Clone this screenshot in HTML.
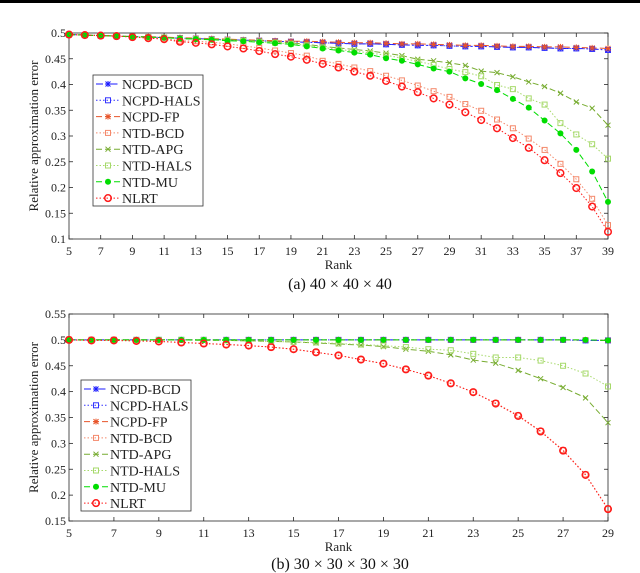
<!DOCTYPE html>
<html><head><meta charset="utf-8"><style>
html,body{margin:0;padding:0;background:#fff;width:640px;height:573px;overflow:hidden}
svg{display:block;font-family:"Liberation Serif",serif}
</style></head><body>
<svg id="s" width="640" height="573">
<rect x="0" y="0" width="640" height="3" fill="#000"/>
</svg>
<script>
const ranksA = [5,6,7,8,9,10,11,12,13,14,15,16,17,18,19,20,21,22,23,24,25,26,27,28,29,30,31,32,33,34,35,36,37,38,39];
const ncpdBcdA = [0.497,0.496,0.495,0.494,0.493,0.492,0.491,0.490,0.489,0.488,0.487,0.486,0.485,0.484,0.483,0.482,0.481,0.480,0.479,0.479,0.478,0.477,0.476,0.476,0.475,0.474,0.474,0.473,0.472,0.472,0.471,0.470,0.470,0.469,0.467];
const ncpdHalsA = [0.497,0.496,0.495,0.494,0.493,0.492,0.491,0.490,0.489,0.488,0.487,0.486,0.485,0.484,0.483,0.482,0.481,0.480,0.479,0.479,0.478,0.477,0.476,0.476,0.475,0.474,0.474,0.473,0.472,0.472,0.471,0.470,0.470,0.469,0.467];
const ncpdFpA = [0.497,0.496,0.495,0.494,0.493,0.493,0.492,0.491,0.490,0.489,0.488,0.487,0.486,0.485,0.484,0.484,0.483,0.482,0.481,0.481,0.480,0.479,0.479,0.478,0.477,0.476,0.476,0.475,0.474,0.474,0.473,0.473,0.472,0.471,0.470];
const ntdBcdA = [0.497,0.496,0.495,0.494,0.493,0.491,0.489,0.485,0.484,0.482,0.479,0.475,0.471,0.466,0.461,0.456,0.446,0.440,0.433,0.426,0.417,0.408,0.398,0.387,0.376,0.362,0.349,0.332,0.315,0.295,0.273,0.246,0.216,0.178,0.127];
const ntdApgA = [0.497,0.496,0.495,0.494,0.493,0.492,0.491,0.490,0.489,0.488,0.487,0.486,0.485,0.483,0.481,0.478,0.474,0.471,0.468,0.465,0.461,0.456,0.449,0.446,0.442,0.437,0.426,0.423,0.415,0.405,0.396,0.383,0.366,0.354,0.321];
const ntdHalsA = [0.497,0.496,0.495,0.494,0.493,0.492,0.491,0.489,0.488,0.487,0.486,0.485,0.483,0.481,0.479,0.476,0.472,0.468,0.465,0.461,0.457,0.451,0.445,0.438,0.430,0.424,0.416,0.399,0.391,0.373,0.361,0.325,0.303,0.284,0.256];
const ntdMuA = [0.497,0.496,0.495,0.494,0.493,0.492,0.491,0.489,0.488,0.487,0.485,0.484,0.482,0.480,0.478,0.474,0.470,0.466,0.462,0.458,0.451,0.446,0.439,0.431,0.425,0.412,0.401,0.389,0.372,0.355,0.330,0.305,0.273,0.231,0.172];
const nlrtA = [0.497,0.496,0.495,0.494,0.492,0.490,0.488,0.483,0.481,0.478,0.474,0.470,0.465,0.459,0.454,0.448,0.440,0.433,0.425,0.417,0.407,0.396,0.385,0.373,0.361,0.346,0.331,0.315,0.296,0.277,0.253,0.228,0.199,0.163,0.114];
const xTicksA = [5,7,9,11,13,15,17,19,21,23,25,27,29,31,33,35,37,39];
const yTicksA = [0.1,0.15,0.2,0.25,0.3,0.35,0.4,0.45,0.5];

const ranksB = [5,6,7,8,9,10,11,12,13,14,15,16,17,18,19,20,21,22,23,24,25,26,27,28,29];
const ncpdBcdB = [0.5,0.5,0.5,0.5,0.5,0.5,0.5,0.5,0.5,0.5,0.5,0.5,0.5,0.5,0.5,0.5,0.5,0.5,0.5,0.5,0.5,0.5,0.5,0.499,0.499];
const ncpdHalsB = [0.5,0.5,0.5,0.5,0.5,0.5,0.5,0.5,0.5,0.5,0.5,0.5,0.5,0.5,0.5,0.5,0.5,0.5,0.5,0.5,0.5,0.5,0.5,0.499,0.499];
const ncpdFpB = [0.5,0.5,0.5,0.5,0.5,0.5,0.5,0.5,0.5,0.5,0.5,0.5,0.5,0.5,0.5,0.5,0.5,0.5,0.5,0.5,0.5,0.5,0.5,0.5,0.499];
const ntdBcdB = [0.5,0.499,0.499,0.498,0.497,0.495,0.493,0.491,0.489,0.486,0.482,0.476,0.470,0.462,0.454,0.443,0.431,0.416,0.399,0.378,0.354,0.324,0.287,0.240,0.174];
const ntdApgB = [0.5,0.5,0.5,0.5,0.5,0.5,0.499,0.499,0.498,0.497,0.496,0.494,0.492,0.490,0.487,0.482,0.478,0.471,0.461,0.455,0.441,0.425,0.408,0.388,0.340];
const ntdHalsB = [0.5,0.5,0.5,0.5,0.5,0.5,0.5,0.499,0.498,0.497,0.496,0.495,0.493,0.491,0.489,0.486,0.482,0.480,0.473,0.466,0.466,0.460,0.450,0.435,0.410];
const ntdMuB = [0.5,0.5,0.5,0.5,0.5,0.5,0.5,0.5,0.5,0.5,0.5,0.5,0.5,0.5,0.5,0.5,0.5,0.5,0.5,0.5,0.5,0.5,0.5,0.5,0.499];
const nlrtB = [0.5,0.499,0.499,0.498,0.497,0.495,0.493,0.491,0.489,0.486,0.482,0.476,0.470,0.462,0.454,0.443,0.431,0.416,0.399,0.377,0.353,0.323,0.286,0.239,0.173];
const xTicksB = [5,7,9,11,13,15,17,19,21,23,25,27,29];
const yTicksB = [0.15,0.2,0.25,0.3,0.35,0.4,0.45,0.5,0.55];

const names = ['NCPD-BCD','NCPD-HALS','NCPD-FP','NTD-BCD','NTD-APG','NTD-HALS','NTD-MU','NLRT'];
const styles = [
 {c:'#1a1aff',d:'7,3,1.5,3',m:'star'},
 {c:'#3333ff',d:'1.5,2',m:'sq'},
 {c:'#e8542a',d:'6,3',m:'star'},
 {c:'#f4896b',d:'1.5,2',m:'sq'},
 {c:'#77ac30',d:'6,3',m:'x'},
 {c:'#a6d96a',d:'1.5,2',m:'sq'},
 {c:'#00dd00',d:'6,3',m:'dot'},
 {c:'#ff1a1a',d:'1.5,2',m:'circ'}];

const NS='http://www.w3.org/2000/svg';
const svg=document.getElementById('s');
function el(t,a,p){const e=document.createElementNS(NS,t);for(const k in a)e.setAttribute(k,a[k]);(p||svg).appendChild(e);return e;}
function marker(g,m,x,y,c){
 if(m==='sq'){el('rect',{x:x-2.5,y:y-2.5,width:5,height:5,fill:'none',stroke:c,'stroke-width':1},g);}
 else if(m==='circ'){el('circle',{cx:x,cy:y,r:3.3,fill:'none',stroke:c,'stroke-width':1.5},g);}
 else if(m==='dot'){el('circle',{cx:x,cy:y,r:3,fill:c},g);}
 else if(m==='x'){el('path',{d:`M${x-2.5},${y-2.5}L${x+2.5},${y+2.5}M${x-2.5},${y+2.5}L${x+2.5},${y-2.5}`,stroke:c,'stroke-width':1},g);}
 else {el('path',{d:`M${x-2.5},${y-2.5}L${x+2.5},${y+2.5}M${x-2.5},${y+2.5}L${x+2.5},${y-2.5}M${x-3},${y}L${x+3},${y}M${x},${y-3}L${x},${y+3}`,stroke:c,'stroke-width':1},g);}
}
function chart(id,L,R,T,B,xr,yr,xs,series,xt,yt,legX,legY,cap,capY){
 const g=el('g',{});
 
 
 const X=v=>L+(v-xr[0])/(xr[1]-xr[0])*(R-L);
 const Y=v=>B-(v-yr[0])/(yr[1]-yr[0])*(B-T);
 const ax=el('rect',{x:L,y:T,width:R-L,height:B-T,fill:'#fff',stroke:'#262626','stroke-width':0.8},g);
 
 
 xt.forEach(v=>{const x=X(v);
  el('line',{x1:x,y1:B,x2:x,y2:B-4,stroke:'#262626','stroke-width':0.8},g);
  el('line',{x1:x,y1:T,x2:x,y2:T+4,stroke:'#262626','stroke-width':0.8},g);
  const t=el('text',{x:x,y:B+16,'text-anchor':'middle','font-size':12,fill:'#222'},g);t.textContent=v;
  
  });
 yt.forEach(v=>{const y=Y(v);
  el('line',{x1:L,y1:y,x2:L+4,y2:y,stroke:'#262626','stroke-width':0.8},g);
  el('line',{x1:R,y1:y,x2:R-4,y2:y,stroke:'#262626','stroke-width':0.8},g);
  const t=el('text',{x:L-3,y:y+4,'text-anchor':'end','font-size':12,fill:'#222'},g);t.textContent=String(v);
  
  });
 series.forEach((s,i)=>{const st=styles[i];
  const sg=el('g',{},g);
  
  
  el('polyline',{points:s.map((v,j)=>X(xs[j])+','+Y(v)).join(' '),fill:'none',stroke:st.c,'stroke-width':1,'stroke-dasharray':st.d},sg);
  s.forEach((v,j)=>marker(sg,st.m,X(xs[j]),Y(v),st.c));});
 const xl=el('text',{x:(L+R)/2,y:B+30,'text-anchor':'middle','font-size':13,fill:'#222'},g);xl.textContent='Rank';
 
 
 const yl=el('text',{x:0,y:0,'text-anchor':'middle','font-size':13,fill:'#222',transform:`translate(38,${(T+B)/2}) rotate(-90)`},g);yl.textContent='Relative approximation error';
 
 
 const lg=el('g',{},g);
 
 
 el('rect',{x:legX,y:legY,width:110,height:131,fill:'#fff',stroke:'#333','stroke-width':0.8},lg);
 names.forEach((n,i)=>{const st=styles[i];const y=legY+9+i*16.3;
  const e=el('g',{},lg);
  
  
  el('line',{x1:legX+3,y1:y,x2:legX+27,y2:y,stroke:st.c,'stroke-width':1,'stroke-dasharray':st.d},e);
  marker(e,st.m,legX+15,y,st.c);
  const t=el('text',{x:legX+29,y:y+5,'font-size':14,fill:'#222'},e);t.textContent=n;});
 const c=el('text',{x:340,y:capY,'text-anchor':'middle','font-size':16,fill:'#111'},g);c.textContent=cap;
 
 
}
chart('chart-a',69,608,33,239,[5,39],[0.1,0.5],ranksA,[ncpdBcdA,ncpdHalsA,ncpdFpA,ntdBcdA,ntdApgA,ntdHalsA,ntdMuA,nlrtA],xTicksA,yTicksA,93,75,'(a) 40 × 40 × 40',289);
chart('chart-b',69,608,314,521,[5,29],[0.15,0.55],ranksB,[ncpdBcdB,ncpdHalsB,ncpdFpB,ntdBcdB,ntdApgB,ntdHalsB,ntdMuB,nlrtB],xTicksB,yTicksB,81,380,'(b) 30 × 30 × 30 × 30',569);
</script>
</body></html>
